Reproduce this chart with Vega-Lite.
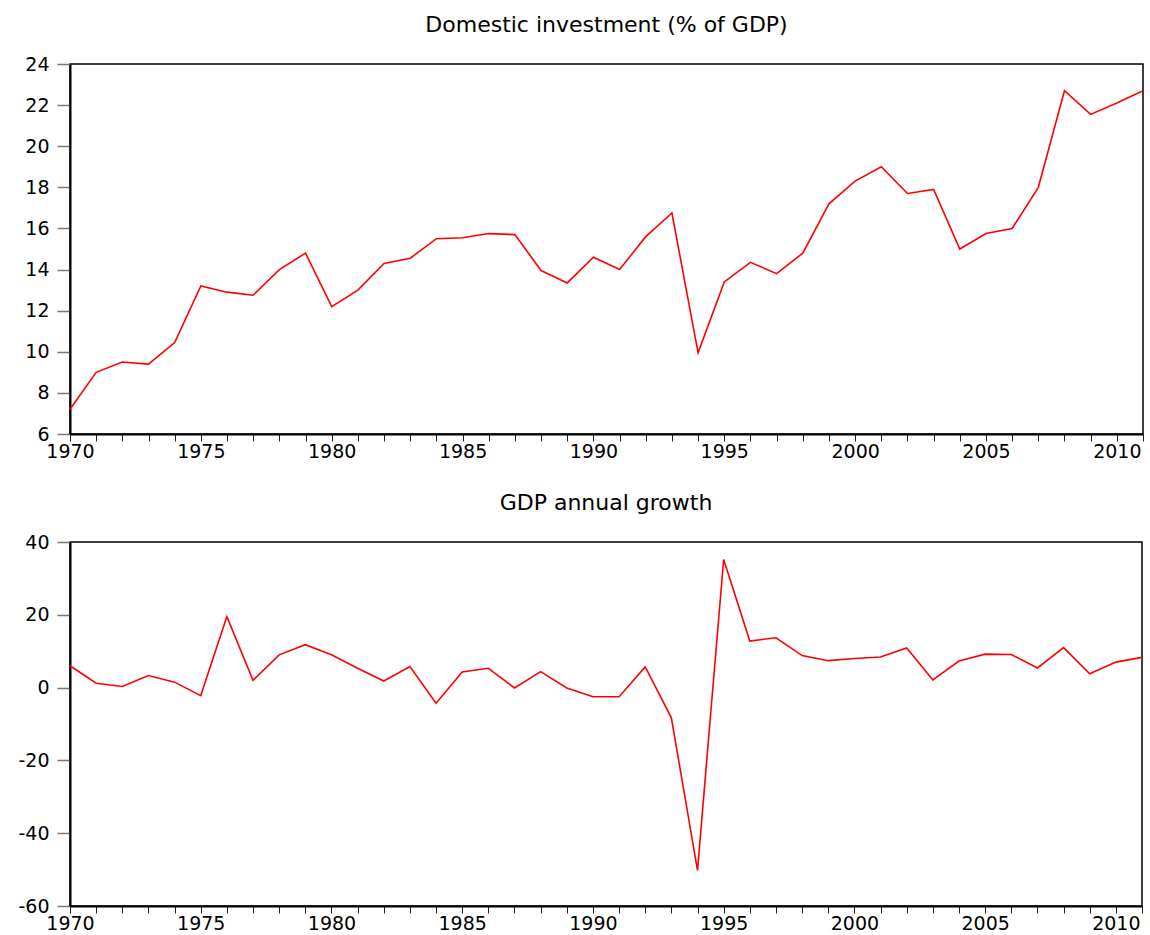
{
  "$schema": "https://vega.github.io/schema/vega-lite/v6.json",
  "padding": {"left": 17, "top": 13, "right": 5, "bottom": 0},
  "background": "white",
  "spacing": 29,
  "columns": 1,
  "align": "none",
  "data": {"values": [
    {"year": 1970, "inv": 7.2, "gdp": 6.0},
    {"year": 1971, "inv": 9.0, "gdp": 1.2},
    {"year": 1972, "inv": 9.5, "gdp": 0.3},
    {"year": 1973, "inv": 9.4, "gdp": 3.3},
    {"year": 1974, "inv": 10.45, "gdp": 1.5},
    {"year": 1975, "inv": 13.2, "gdp": -2.2},
    {"year": 1976, "inv": 12.9, "gdp": 19.5},
    {"year": 1977, "inv": 12.75, "gdp": 2.0},
    {"year": 1978, "inv": 14.0, "gdp": 9.0},
    {"year": 1979, "inv": 14.8, "gdp": 11.8},
    {"year": 1980, "inv": 12.2, "gdp": 9.0},
    {"year": 1981, "inv": 13.0, "gdp": 5.3},
    {"year": 1982, "inv": 14.3, "gdp": 1.8},
    {"year": 1983, "inv": 14.55, "gdp": 5.8},
    {"year": 1984, "inv": 15.5, "gdp": -4.3},
    {"year": 1985, "inv": 15.55, "gdp": 4.3},
    {"year": 1986, "inv": 15.75, "gdp": 5.3},
    {"year": 1987, "inv": 15.7, "gdp": -0.1},
    {"year": 1988, "inv": 13.95, "gdp": 4.4},
    {"year": 1989, "inv": 13.35, "gdp": -0.1},
    {"year": 1990, "inv": 14.6, "gdp": -2.5},
    {"year": 1991, "inv": 14.0, "gdp": -2.5},
    {"year": 1992, "inv": 15.6, "gdp": 5.7},
    {"year": 1993, "inv": 16.75, "gdp": -8.3},
    {"year": 1994, "inv": 9.95, "gdp": -50.2},
    {"year": 1995, "inv": 13.4, "gdp": 35.2},
    {"year": 1996, "inv": 14.35, "gdp": 12.8},
    {"year": 1997, "inv": 13.8, "gdp": 13.7},
    {"year": 1998, "inv": 14.8, "gdp": 8.8},
    {"year": 1999, "inv": 17.2, "gdp": 7.4},
    {"year": 2000, "inv": 18.3, "gdp": 8.0},
    {"year": 2001, "inv": 19.0, "gdp": 8.4},
    {"year": 2002, "inv": 17.7, "gdp": 10.9},
    {"year": 2003, "inv": 17.9, "gdp": 2.1},
    {"year": 2004, "inv": 15.0, "gdp": 7.3},
    {"year": 2005, "inv": 15.75, "gdp": 9.2},
    {"year": 2006, "inv": 16.0, "gdp": 9.1},
    {"year": 2007, "inv": 18.0, "gdp": 5.4},
    {"year": 2008, "inv": 22.7, "gdp": 11.0},
    {"year": 2009, "inv": 21.55, "gdp": 3.8},
    {"year": 2010, "inv": 22.1, "gdp": 7.0},
    {"year": 2011, "inv": 22.7, "gdp": 8.3}
  ]},
  "config": {
    "font": "DejaVu Sans",
    "view": {"stroke": "black", "strokeWidth": 1.5},
    "title": {"fontSize": 22, "fontWeight": "normal", "color": "black", "offset": 18, "font": "DejaVu Sans"},
    "axis": {
      "grid": false,
      "title": null,
      "labelFontSize": 19,
      "labelColor": "black",
      "domainColor": "black",
      "domainWidth": 2,
      "labelFont": "DejaVu Sans"
    },
    "axisY": {"tickSize": 13, "tickColor": "#777777", "labelPadding": 8, "tickWidth": 1.5, "labelExpr": "datum.value + ''"},
    "axisX": {"tickSize": 7, "tickColor": "#222222", "labelPadding": 1, "tickWidth": 1}
  },
  "concat": [
    {
      "title": "Domestic investment (% of GDP)",
      "width": 1073,
      "height": 370,
      "mark": {"type": "line", "color": "#ff0000", "strokeWidth": 1.6},
      "encoding": {
        "x": {"field": "year", "type": "quantitative",
          "scale": {"domain": [1970, 2011], "nice": false, "zero": false},
          "axis": {"values": [1970,1971,1972,1973,1974,1975,1976,1977,1978,1979,1980,1981,1982,1983,1984,1985,1986,1987,1988,1989,1990,1991,1992,1993,1994,1995,1996,1997,1998,1999,2000,2001,2002,2003,2004,2005,2006,2007,2008,2009,2010,2011],
            "labelExpr": "datum.value % 5 == 0 ? datum.value + '' : ''", "labelOverlap": false, "labelFlush": false}},
        "y": {"field": "inv", "type": "quantitative",
          "scale": {"domain": [6, 24], "nice": false, "zero": false},
          "axis": {"values": [6,8,10,12,14,16,18,20,22,24]}}
      }
    },
    {
      "title": "GDP annual growth",
      "width": 1072,
      "height": 364,
      "mark": {"type": "line", "color": "#ff0000", "strokeWidth": 1.6},
      "encoding": {
        "x": {"field": "year", "type": "quantitative",
          "scale": {"domain": [1970, 2011], "nice": false, "zero": false},
          "axis": {"values": [1970,1971,1972,1973,1974,1975,1976,1977,1978,1979,1980,1981,1982,1983,1984,1985,1986,1987,1988,1989,1990,1991,1992,1993,1994,1995,1996,1997,1998,1999,2000,2001,2002,2003,2004,2005,2006,2007,2008,2009,2010,2011],
            "labelExpr": "datum.value % 5 == 0 ? datum.value + '' : ''", "labelOverlap": false, "labelFlush": false}},
        "y": {"field": "gdp", "type": "quantitative",
          "scale": {"domain": [-60, 40], "nice": false, "zero": false},
          "axis": {"values": [-60,-40,-20,0,20,40]}}
      }
    }
  ]
}
